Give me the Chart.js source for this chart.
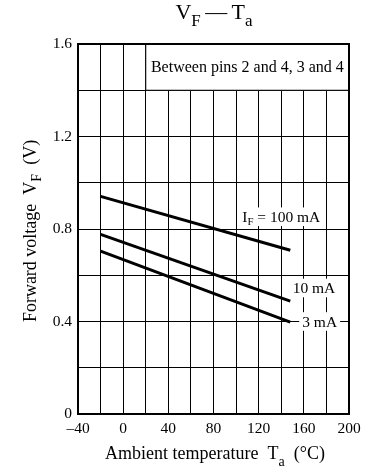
<!DOCTYPE html>
<html>
<head>
<meta charset="utf-8">
<script src="https://cdn.jsdelivr.net/npm/chart.js@4.4.1/dist/chart.umd.min.js"></script>
<style>
  html, body { margin: 0; padding: 0; background: #fff; }
  #wrap { width: 372px; height: 469px; }
</style>
</head>
<body>
<div id="wrap"><canvas id="vfChart" width="372" height="469"></canvas></div>
<script>
// temperatures (°C) at the ends of each line
const temps = [-20, 148];
// forward voltage (V) per current
const vf100mA = [0.941, 0.708];
const vf10mA = [0.777, 0.488];
const vf3mA = [0.704, 0.397];
const xTickLabels = [-40, 0, 40, 80, 120, 160, 200];
const yTickLabels = [0, 0.4, 0.8, 1.2, 1.6];

const serif = "'Liberation Serif', 'Times New Roman', serif";

function pts(vals) {
  return temps.map((t, i) => ({ x: t, y: vals[i] }));
}

// draws text made of [string, isSub] parts, centered on cx, on baseline by
function drawParts(ctx, parts, cx, by, size, subSize, subDrop) {
  let total = 0;
  const widths = parts.map(p => {
    ctx.font = (p[1] ? subSize : size) + "px " + serif;
    const w = ctx.measureText(p[0]).width;
    total += w;
    return w;
  });
  let x = cx - total / 2;
  ctx.textBaseline = "alphabetic";
  ctx.textAlign = "left";
  parts.forEach((p, i) => {
    ctx.font = (p[1] ? subSize : size) + "px " + serif;
    ctx.fillText(p[0], x, p[1] ? by + subDrop : by);
    x += widths[i];
  });
  return total;
}

function labelBox(ctx, parts, cx, cy, size, padX) {
  ctx.save();
  let w = 0;
  parts.forEach(p => {
    ctx.font = (p[1] ? size * 0.7 : size) + "px " + serif;
    w += ctx.measureText(p[0]).width;
  });
  ctx.fillStyle = "#fff";
  ctx.fillRect(cx - w / 2 - padX, cy - size * 0.6, w + padX * 2, size * 1.2);
  ctx.fillStyle = "#000";
  drawParts(ctx, parts, cx, cy + size * 0.33, size, size * 0.7, 3);
  ctx.restore();
}

const extras = {
  id: "extras",
  beforeDatasetsDraw(chart) {
    const { ctx, scales: { x, y } } = chart;
    // condition box in the top band
    const l = x.getPixelForValue(20), r = x.getPixelForValue(200);
    const t = y.getPixelForValue(1.6), b = y.getPixelForValue(1.4);
    ctx.save();
    ctx.fillStyle = "#fff";
    ctx.fillRect(l, t, r - l, b - t);
    ctx.strokeStyle = "#000";
    ctx.lineWidth = 1;
    ctx.beginPath();
    ctx.moveTo(l, t);
    ctx.lineTo(l, b);
    ctx.lineTo(r, b);
    ctx.stroke();
    ctx.fillStyle = "#000";
    ctx.font = "16px " + serif;
    ctx.textAlign = "center";
    ctx.textBaseline = "middle";
    ctx.fillText("Between pins 2 and 4, 3 and 4", (l + r) / 2, (t + b) / 2 + 1);
    ctx.restore();
  },
  afterDatasetsDraw(chart) {
    const { ctx, scales: { x, y }, chartArea } = chart;
    ctx.save();
    // full frame
    ctx.strokeStyle = "#000";
    ctx.lineWidth = 2;
    ctx.strokeRect(chartArea.left, chartArea.top, chartArea.right - chartArea.left, chartArea.bottom - chartArea.top);

    ctx.fillStyle = "#000";
    labelBox(ctx, [["I", false], ["F", true], [" = 100 mA", false]],
      x.getPixelForValue(140), y.getPixelForValue(0.853), 15.5, 2);
    labelBox(ctx, [["10 mA", false]],
      x.getPixelForValue(169), y.getPixelForValue(0.545), 15.5, 2);
    labelBox(ctx, [["3 mA", false]],
      x.getPixelForValue(174), y.getPixelForValue(0.4), 15.5, 3);

    // title
    drawParts(ctx, [["V", false], ["F", true], ["\u2009\u2014\u2009T", false], ["a", true]], 214, 19, 22, 17, 7);
    // x axis title
    drawParts(ctx, [["Ambient temperature  T", false], ["a", true], ["  (\u00b0C)", false]], 215, 459, 18, 14, 7);
    // y axis title
    ctx.translate(36, 231);
    ctx.rotate(-Math.PI / 2);
    drawParts(ctx, [["Forward voltage  V", false], ["F", true], ["  (V)", false]], 0, 0, 18, 14, 5);
    ctx.restore();
  }
};

const lineStyle = {
  borderColor: "#000",
  borderWidth: 3,
  pointRadius: 0,
  fill: false,
  tension: 0
};

new Chart(document.getElementById("vfChart"), {
  type: "scatter",
  data: {
    datasets: [
      { label: "100 mA", data: pts(vf100mA), showLine: true, ...lineStyle },
      { label: "10 mA", data: pts(vf10mA), showLine: true, ...lineStyle },
      { label: "3 mA", data: pts(vf3mA), showLine: true, ...lineStyle }
    ]
  },
  options: {
    responsive: false,
    animation: false,
    devicePixelRatio: 1,
    layout: { padding: { left: 0, right: 23, top: 44, bottom: 0 } },
    plugins: {
      legend: { display: false },
      tooltip: { enabled: false }
    },
    scales: {
      x: {
        type: "linear",
        min: -40,
        max: 200,
        afterFit(s) { s.height = 55; },
        afterBuildTicks(s) {
          s.ticks = [];
          for (let v = -40; v <= 200; v += 20) s.ticks.push({ value: v });
        },
        ticks: {
          color: "#000",
          font: { family: serif, size: 15.5 },
          padding: 6,
          maxRotation: 0,
          autoSkip: false,
          callback: v => xTickLabels.includes(v) ? (v < 0 ? "\u2013" + Math.abs(v) : String(v)) : ""
        },
        grid: { color: "#000", lineWidth: 1, drawTicks: false },
        border: { color: "#000", width: 2 }
      },
      y: {
        type: "linear",
        min: 0,
        max: 1.6,
        afterFit(s) { s.width = 78; },
        afterBuildTicks(s) {
          s.ticks = [];
          for (let i = 0; i <= 8; i++) s.ticks.push({ value: Math.round(i * 2) / 10 });
        },
        ticks: {
          color: "#000",
          font: { family: serif, size: 15.5 },
          padding: 6,
          autoSkip: false,
          callback: v => yTickLabels.some(t => Math.abs(t - v) < 1e-6) ? (v === 0 ? "0" : v.toFixed(1)) : ""
        },
        grid: { color: "#000", lineWidth: 1, drawTicks: false },
        border: { color: "#000", width: 2 }
      }
    }
  },
  plugins: [extras]
});
</script>
</body>
</html>
